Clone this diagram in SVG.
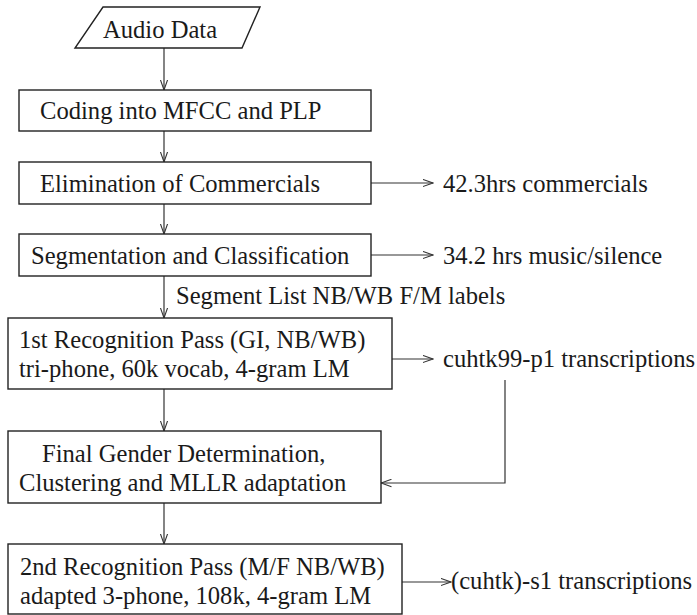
<svg xmlns="http://www.w3.org/2000/svg" width="697" height="615" viewBox="0 0 697 615">
<style>
.box{fill:#fff;stroke:#222;stroke-width:1.4}
.t{font-size:24.6px;fill:#1a1a1a}
.c{fill:none;stroke:#333;stroke-width:1.2}
</style>
<defs>
<marker id="ah" markerUnits="userSpaceOnUse" viewBox="0 0 11 9" refX="10.5" refY="4.5" markerWidth="11" markerHeight="9" orient="auto">
<path d="M0,0.8 L10.5,4.5 L0,8.2" fill="none" stroke="#333" stroke-width="1.1"/>
</marker>
</defs>
<rect width="697" height="615" fill="#fff"/>
<g font-family="Liberation Serif, serif">
<g id="connectors">
<line class="c" x1="164" y1="48" x2="164" y2="90" marker-end="url(#ah)"/>
<line class="c" x1="164" y1="131" x2="164" y2="162" marker-end="url(#ah)"/>
<line class="c" x1="164" y1="204" x2="164" y2="234" marker-end="url(#ah)"/>
<line class="c" x1="164" y1="276" x2="164" y2="318" marker-end="url(#ah)"/>
<line class="c" x1="164" y1="389" x2="164" y2="431" marker-end="url(#ah)"/>
<line class="c" x1="164" y1="503" x2="164" y2="544" marker-end="url(#ah)"/>
<line class="c" x1="371" y1="183" x2="433" y2="183" marker-end="url(#ah)"/>
<line class="c" x1="371" y1="255" x2="433" y2="255" marker-end="url(#ah)"/>
<line class="c" x1="392" y1="359" x2="433" y2="359" marker-end="url(#ah)"/>
<polyline class="c" points="505,380 505,483 381,483" marker-end="url(#ah)"/>
<line class="c" x1="402" y1="582" x2="451" y2="582" marker-end="url(#ah)"/>
<text class="t" x="176" y="304">Segment List NB/WB F/M labels</text>
</g>
<g id="audio">
<polygon class="box" points="103,7 260,7 242,48 75,48"/>
<text class="t" x="103" y="38">Audio Data</text>
</g>
<g id="coding">
<rect class="box" x="19" y="90" width="352" height="41"/>
<text class="t" x="40" y="119">Coding into MFCC and PLP</text>
</g>
<g id="elimination">
<rect class="box" x="19" y="162" width="352" height="42"/>
<text class="t" x="40" y="192">Elimination of Commercials</text>
</g>
<g id="commercials">
<text class="t" x="443" y="192">42.3hrs commercials</text>
</g>
<g id="segmentation">
<rect class="box" x="19" y="234" width="352" height="42"/>
<text class="t" x="31" y="264">Segmentation and Classification</text>
</g>
<g id="music">
<text class="t" x="443" y="264">34.2 hrs music/silence</text>
</g>
<g id="pass1">
<rect class="box" x="8" y="318" width="384" height="71"/>
<text class="t" x="19" y="348">1st Recognition Pass (GI, NB/WB)</text>
<text class="t" x="19" y="377">tri-phone, 60k vocab, 4-gram LM</text>
</g>
<g id="p1trans">
<text class="t" x="443" y="367">cuhtk99-p1 transcriptions</text>
</g>
<g id="gender">
<rect class="box" x="8" y="431" width="373" height="72"/>
<text class="t" x="42" y="462">Final Gender Determination,</text>
<text class="t" x="19" y="491">Clustering and MLLR adaptation</text>
</g>
<g id="pass2">
<rect class="box" x="8" y="544" width="394" height="70"/>
<text class="t" x="20" y="575">2nd Recognition Pass (M/F NB/WB)</text>
<text class="t" x="20" y="604">adapted 3-phone, 108k, 4-gram LM</text>
</g>
<g id="s1trans">
<text class="t" x="451" y="589">(cuhtk)-s1 transcriptions</text>
</g>
</g>
</svg>
